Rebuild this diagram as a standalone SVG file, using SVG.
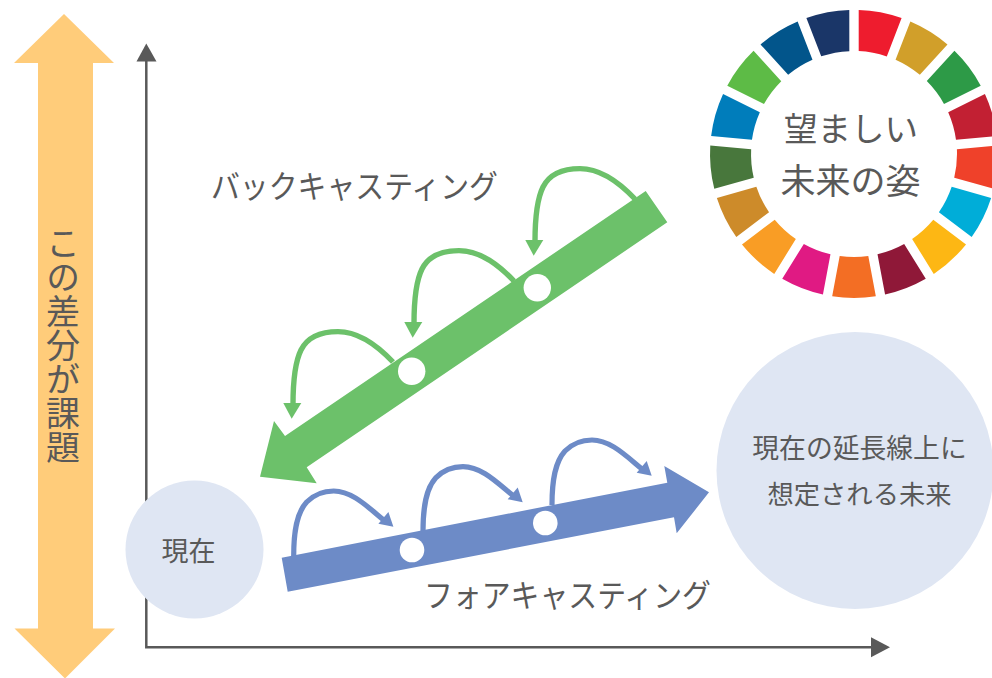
<svg xmlns="http://www.w3.org/2000/svg" xmlns:xlink="http://www.w3.org/1999/xlink" width="992" height="678" viewBox="0 0 992 678">
<style>
text{font-family:"Noto Sans CJK JP","Noto Sans",sans-serif;fill:#595959;text-anchor:middle;font-weight:400}
.g{fill:none;stroke:#6CC16A;stroke-width:5.4}
.gh{fill:#6CC16A}
.b{fill:none;stroke:#6D8BC7;stroke-width:5.2}
.bh{fill:#6D8BC7}
.axis{fill:none;stroke:#595959;stroke-width:2.5}
.bubble{fill:#DFE6F3}
.dot{fill:#fff}
</style>
<defs>
<path id="seg" d="M858.7 10.08A144 144 0 0 1 901.6 18.1L886.8 56.4A103 103 0 0 0 858.7 51.1Z"/>
<g id="gjump"><path class="g" d="M635 199C617 180 598 168.6 580 168.6C560 168.6 549 175 543 187C537 199 535 220 535 242"/><polygon class="gh" points="525.3,240 543.3,240 533.7,255.7"/></g>
<g id="bjump"><path class="b" d="M552 505C552 480 555 462 565 451C574 442 583 440 592 440C610 440 625 455 642 469"/><polygon class="bh" points="646.7,461 651.7,475.7 636.7,472.7"/></g>
</defs>
<g id="gap-arrow"><polygon points="64,14 114,63 93,63 93,628.5 115,628.5 65,678.5 14.5,628.5 38,628.5 38,63 14,63" fill="#FFCC7A"/></g>
<g id="gap-label"><text x="63" y="345" style="writing-mode:vertical-rl" font-size="34">この差分が課題</text></g>
<g id="connectors">
<path class="axis" d="M146.3 58V647.3H874"/>
<polygon points="146.3,43.5 156.5,61.5 136.5,61.5" fill="#595959"/>
<polygon points="890,647.3 871,637.3 871,657.3" fill="#595959"/>
<use xlink:href="#gjump" href="#gjump"/>
<use xlink:href="#gjump" href="#gjump" transform="translate(-121 82)"/>
<use xlink:href="#gjump" href="#gjump" transform="translate(-242 163)"/>
<use xlink:href="#bjump" href="#bjump"/>
<use xlink:href="#bjump" href="#bjump" transform="translate(-129 26.6)"/>
<use xlink:href="#bjump" href="#bjump" transform="translate(-258.3 51)"/>
</g>
<g id="backcasting-arrow">
<polygon class="gh" points="645.7,191 667.3,222.3 306.7,467.3 316.7,483.3 260,476.7 274,421 285,436"/>
<circle class="dot" cx="537.3" cy="287.7" r="13.7"/>
<circle class="dot" cx="411.7" cy="371.3" r="13.7"/>
</g>
<g id="forecasting-arrow">
<polygon class="bh" points="281.7,557.7 667.3,482.7 664.3,466 709,492.3 676.7,533.3 674,517.3 287.7,591.7"/>
<circle class="dot" cx="545.3" cy="523" r="12.3"/>
<circle class="dot" cx="412" cy="550" r="12.3"/>
</g>
<g id="now"><circle class="bubble" cx="194.5" cy="549.5" r="69"/><text x="188.5" y="561" font-size="27">現在</text></g>
<g id="trend-future"><circle class="bubble" cx="855" cy="470.5" r="138.5"/><text x="859.5" y="458" font-size="26.8">現在の延長線上に</text><text x="859.5" y="504" font-size="26.3">想定される未来</text></g>
<g id="desired-future">
<use href="#seg" fill="#EE1C2E"/>
<use href="#seg" fill="#D19F2A" transform="rotate(21.176 854 154)"/>
<use href="#seg" fill="#2D9A47" transform="rotate(42.353 854 154)"/>
<use href="#seg" fill="#C22033" transform="rotate(63.529 854 154)"/>
<use href="#seg" fill="#EF412A" transform="rotate(84.706 854 154)"/>
<use href="#seg" fill="#00ADD8" transform="rotate(105.882 854 154)"/>
<use href="#seg" fill="#FDB714" transform="rotate(127.059 854 154)"/>
<use href="#seg" fill="#8F1838" transform="rotate(148.235 854 154)"/>
<use href="#seg" fill="#F36E24" transform="rotate(169.412 854 154)"/>
<use href="#seg" fill="#E01A83" transform="rotate(190.588 854 154)"/>
<use href="#seg" fill="#F99D25" transform="rotate(211.765 854 154)"/>
<use href="#seg" fill="#CD8B2A" transform="rotate(232.941 854 154)"/>
<use href="#seg" fill="#48773C" transform="rotate(254.118 854 154)"/>
<use href="#seg" fill="#007DBB" transform="rotate(275.294 854 154)"/>
<use href="#seg" fill="#5DBB46" transform="rotate(296.471 854 154)"/>
<use href="#seg" fill="#02558B" transform="rotate(317.647 854 154)"/>
<use href="#seg" fill="#1A3668" transform="rotate(338.824 854 154)"/>
<text x="851" y="141" font-size="33.5">望ましい</text>
<text x="850.5" y="194" font-size="35">未来の姿</text>
</g>
<g id="backcasting-label"><text x="354.5" y="198" font-size="32" textLength="287" lengthAdjust="spacingAndGlyphs">バックキャスティング</text></g>
<g id="forecasting-label"><text x="567.5" y="607" font-size="32" textLength="287" lengthAdjust="spacingAndGlyphs">フォアキャスティング</text></g>
</svg>
